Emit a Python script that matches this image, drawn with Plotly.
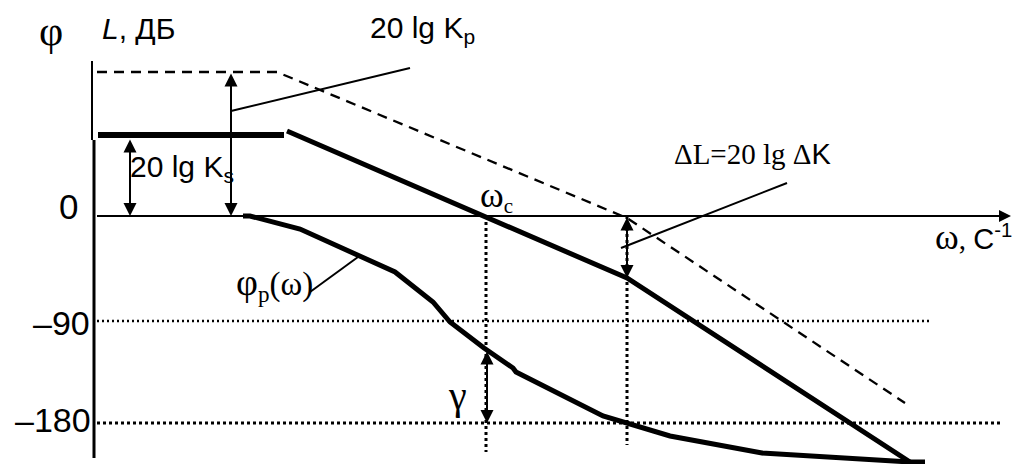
import plotly.graph_objects as go

# ______________________________________________________________________________
# DATA (scheme units, y grows downwards)
# ______________________________________________________________________________

# vertical axis (two pieces as drawn)
axis_up_x = [92, 92]
axis_up_y = [61, 140]
axis_low_x = [94, 94]
axis_low_y = [140, 458]

# zero line / omega axis
zero_x = [97, 1003]
zero_y = [216, 216]

# 20 lg Kp asymptote (dashed)
lp_x = [97, 277, 627, 905]
lp_y = [72, 72, 218, 403]

# 20 lg Ks asymptote (thick)
ls_flat_x = [98, 284]
ls_flat_y = [135, 135]
ls_x = [287, 627, 910]
ls_y = [131, 278, 462]

# phase curve phi_p(omega)
ph_x = [243, 250, 300, 360, 395, 433, 450, 484, 513, 516, 603, 670, 762, 910, 925]
ph_y = [216, 216, 229, 257, 272, 302, 322, 348, 368, 372, 416, 436, 453, 462, 462]

# dotted guides
m90_x, m90_y = [97, 930], [321, 321]
m180_x, m180_y = [97, 1000], [423, 423]
wc_x, wc_y = [486, 486], [216, 452]
dl_x, dl_y = [627, 627], [216, 445]

# leader lines
lead_kp = ([231, 410], [111, 68])
lead_dl = ([621, 787], [248, 183])
lead_ph = ([310, 358], [292, 257])

# double arrows: x, y_top, y_bottom
arrows = [(231, 72, 216), (130, 138, 216), (627, 216, 278), (487, 350, 423)]

SANS = "Liberation Sans, Arial"
SERIF = "Liberation Serif, Times New Roman"

fig = go.Figure()


def line(x, y, w=2, dash="solid"):
    fig.add_trace(go.Scatter(x=x, y=y, mode="lines",
                             line=dict(color="black", width=w, dash=dash),
                             hoverinfo="skip", showlegend=False))


line(axis_up_x, axis_up_y, 2)
line(axis_low_x, axis_low_y, 3)
line(zero_x, zero_y, 2)
line(m90_x, m90_y, 2.5, "2px,3px")
line(m180_x, m180_y, 3, "3px,3px")
line(wc_x, wc_y, 3, "3px,3px")
line(dl_x, dl_y, 3, "3px,3px")
line(lp_x, lp_y, 2.3, "10px,7px")
line(ls_flat_x, ls_flat_y, 6)
line(ls_x, ls_y, 5)
line(ph_x, ph_y, 5)
for lx, ly in (lead_kp, lead_dl, lead_ph):
    line(lx, ly, 2)

# omega axis arrow
fig.add_annotation(x=1011, y=216, ax=990, ay=216, xref="x", yref="y",
                   axref="x", ayref="y", showarrow=True, arrowhead=2,
                   arrowsize=1.2, arrowwidth=2, arrowcolor="black", text="")

for ax_x, y0, y1 in arrows:
    fig.add_annotation(x=ax_x, y=y1, ax=ax_x, ay=y0, xref="x", yref="y",
                       axref="x", ayref="y", showarrow=True, arrowhead=2,
                       startarrowhead=2, arrowside="end+start", arrowsize=1.3,
                       startarrowsize=1.3, arrowwidth=2, arrowcolor="black", text="")

labels = [
    (51, 31, "φ", SERIF, 42),
    (138, 28, "<i>L</i>, ДБ", SANS, 30),
    (422, 29, "20 lg K<sub>p</sub>", SANS, 30),
    (182, 168, "20 lg K<sub>s</sub>", SANS, 30),
    (68, 206, "0", SANS, 35),
    (496, 196, "<span style='font-size:36px'>ω</span><sub>c</sub>", SERIF, 30),
    (752, 154, "ΔL=20 lg Δ<span style='font-family:Liberation Sans'>K</span>", SERIF, 29),
    (973, 237, "<span style='font-size:36px'>ω</span>, "
               "<span style='font-family:Liberation Sans'>С<sup>-1</sup></span>", SERIF, 29),
    (274, 284, "<span style='font-size:38px'>φ</span><sub>p</sub>(ω)", SERIF, 33),
    (61, 323, "–90", SANS, 34),
    (53, 420, "–180", SANS, 34),
    (457, 395, "γ", SERIF, 40),
]
for tx, ty, txt, fam, sz in labels:
    fig.add_annotation(x=tx, y=ty, xref="x", yref="y", text=txt, showarrow=False,
                       font=dict(family=fam, size=sz, color="black"),
                       xanchor="center", yanchor="middle")

fig.update_layout(
    width=1014, height=464,
    margin=dict(l=0, r=0, t=0, b=0),
    paper_bgcolor="white", plot_bgcolor="white",
    xaxis=dict(range=[0, 1014], visible=False, fixedrange=True),
    yaxis=dict(range=[464, 0], visible=False, fixedrange=True),
)

fig.write_html("out.html", config={"displayModeBar": False},
               post_script="document.body.style.margin='0px';")
